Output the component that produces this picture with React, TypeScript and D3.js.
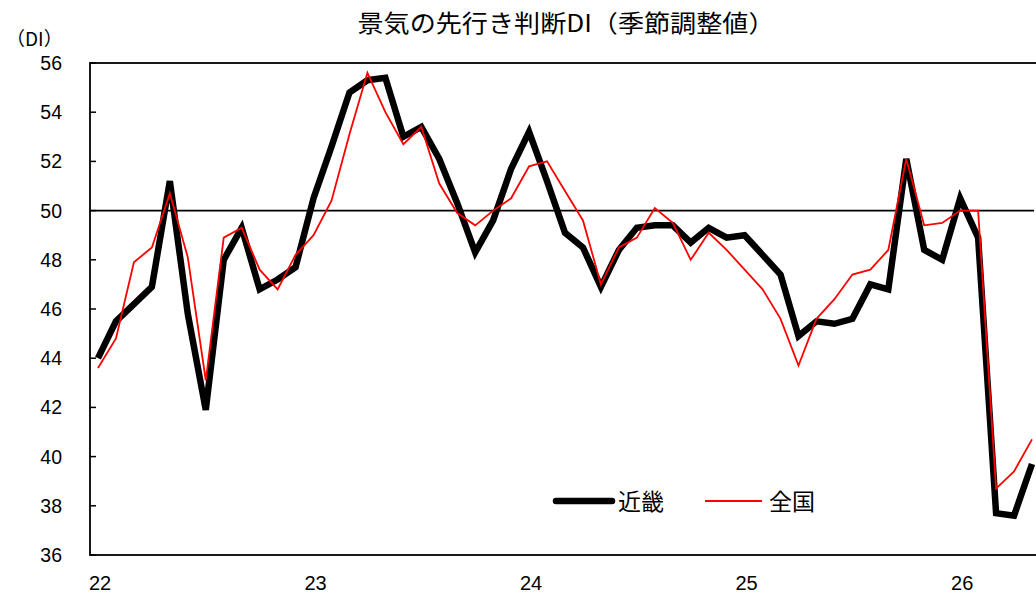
import React from "react";
import * as d3 from "d3";

const yearLabels = ["22", "23", "24", "25", "26"];
const yearStartIndex = [0, 12, 24, 36, 48];
const yTicks = [36, 38, 40, 42, 44, 46, 48, 50, 52, 54, 56];

// 近畿 (monthly, Jan 2022 – May 2026)
const kinki = [
  44.0, 45.5, 46.2, 46.9, 51.2, 45.8, 41.9, 48.0, 49.3, 46.8, 47.2, 47.7,
  50.5, 52.6, 54.8, 55.3, 55.4, 53.0, 53.4, 52.1, 50.3, 48.3, 49.6, 51.7,
  53.2, 51.2, 49.1, 48.5, 46.9, 48.4, 49.3, 49.4, 49.4, 48.7, 49.3, 48.9,
  49.0, 48.2, 47.4, 44.9, 45.5, 45.4, 45.6, 47.0, 46.8, 52.1, 48.4, 48.0,
  50.5, 48.9, 37.7, 37.6, 39.7,
];
// 全国
const zenkoku = [
  43.6, 44.8, 47.9, 48.5, 50.7, 48.1, 43.1, 48.9, 49.3, 47.6, 46.8, 48.2,
  49.0, 50.4, 53.1, 55.6, 54.0, 52.7, 53.4, 51.1, 49.9, 49.4, 50.0, 50.5,
  51.8, 52.0, 50.8, 49.6, 47.0, 48.5, 48.9, 50.1, 49.5, 48.0, 49.1, 48.4,
  47.6, 46.8, 45.6, 43.7, 45.6, 46.4, 47.4, 47.6, 48.4, 52.1, 49.4, 49.5,
  50.0, 50.0, 38.7, 39.4, 40.7,
];

const title = "景気の先行き判断DI（季節調整値）";
const yUnit = "（DI）";
const seriesNames = ["近畿", "全国"];

export default function App() {
  const W = 1036;
  const H = 598;
  const left = 90;
  const top = 63;
  const bottom = 555;
  const x = d3.scaleLinear().domain([0, 52]).range([98, 1032]);
  const y = d3.scaleLinear().domain([36, 56]).range([bottom, top]);
  const line = d3
    .line<number>()
    .x((_, i) => x(i))
    .y((d) => y(d));
  const font = "'Liberation Sans', Arial, sans-serif";
  const cjk = "'Noto Sans CJK JP', sans-serif";
  return (
    <svg
      width={W}
      height={H}
      style={{ position: "absolute", left: 0, top: 0, background: "#fff" }}
    >
      <rect x={0} y={0} width={W} height={H} fill="#fff" />
      <text
        x={566}
        y={32}
        textAnchor="middle"
        fontFamily={cjk}
        fontSize={24}
        fill="#000"
        textLength={417}
        lengthAdjust="spacingAndGlyphs"
      >
        {title}
      </text>
      <text x={6} y={46} fontFamily={cjk} fontSize={19} fill="#000">
        {yUnit}
      </text>
      {/* frame */}
      <rect
        x={left}
        y={top}
        width={W - left + 10}
        height={bottom - top}
        fill="none"
        stroke="#000"
        strokeWidth={1.8}
      />
      {yTicks.map((t) => (
        <g key={t}>
          <line x1={left} x2={left + 6} y1={y(t)} y2={y(t)} stroke="#000" strokeWidth={1.5} />
          <text
            x={62}
            y={y(t)}
            dy="0.36em"
            textAnchor="end"
            fontFamily={font}
            fontSize={19.5}
            fill="#000"
          >
            {t}
          </text>
        </g>
      ))}
      <line x1={left} x2={1034} y1={y(50)} y2={y(50)} stroke="#000" strokeWidth={1.8} />
      {yearLabels.map((l, k) => (
        <text
          key={l}
          x={x(yearStartIndex[k]) + 2}
          y={590}
          textAnchor="middle"
          fontFamily="'Liberation Sans Narrow', 'Liberation Sans', Arial, sans-serif"
          fontSize={20}
          fill="#000"
        >
          {l}
        </text>
      ))}
      <path
        d={line(kinki) || ""}
        fill="none"
        stroke="#000"
        strokeWidth={6.5}
        strokeLinejoin="miter"
        strokeMiterlimit={3}
      />
      <path d={line(zenkoku) || ""} fill="none" stroke="#ff0000" strokeWidth={1.8} />
      {/* legend */}
      <line x1={556} x2={612} y1={501} y2={501} stroke="#000" strokeWidth={6.5} strokeLinecap="round" />
      <text x={618} y={510} fontFamily={cjk} fontSize={23} fill="#000">
        {seriesNames[0]}
      </text>
      <line x1={705} x2={762} y1={501} y2={501} stroke="#ff0000" strokeWidth={1.8} />
      <text x={769} y={510} fontFamily={cjk} fontSize={23} fill="#000">
        {seriesNames[1]}
      </text>
    </svg>
  );
}
